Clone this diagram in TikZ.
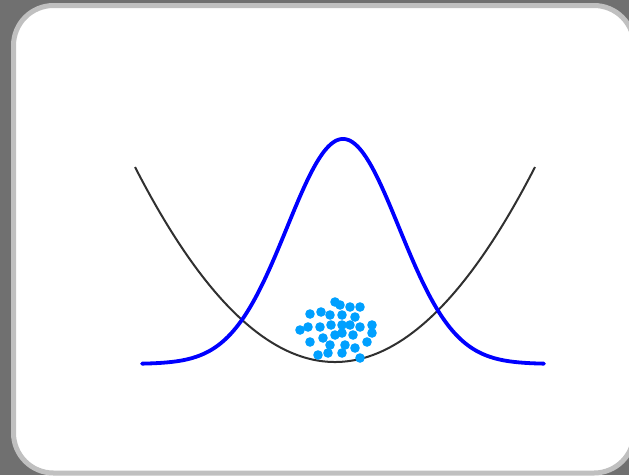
\documentclass[tikz,border=0pt]{standalone}
\definecolor{bggray}{HTML}{707070}
\definecolor{framegray}{HTML}{C0C0C0}
\definecolor{dotblue}{HTML}{00A0FF}
\definecolor{curvegray}{HTML}{303030}
\tikzset{
  frame/.style={draw=framegray, line width=5pt, fill=white, rounded corners=40pt},
  parab/.style={draw=curvegray, line width=2pt},
  gauss/.style={draw=blue, line width=3.8pt, line cap=round},
  dot/.style={fill=dotblue}
}
\begin{document}
\begin{tikzpicture}[x=1pt,y=-1pt]
  \fill[bggray] (0,0) rectangle (629,475);
  \useasboundingbox (0,0) rectangle (629,475);
  \path[frame] (13.5,5.5) rectangle (634,473);
  \draw[parab] plot[domain=135:535, samples=200] (\x, {362 - 195*((\x-335)/200)^2});
  \draw[gauss] plot[domain=142:544, samples=240] (\x, {364 - 225*exp(-0.5*((\x-343)/56)^2)});
  \foreach \px/\py in {335/302, 321/312, 310/314, 330/315, 300/330, 308/327, 320/327, 331/325,
      310/342, 323/338, 330/345, 318/355, 328/353, 335/335,
      340/305, 350/307, 360/307, 342/315, 355/317, 342/325, 350/325, 360/327, 372/325,
      372/333, 342/333, 353/335, 367/342, 345/345, 355/348, 342/353, 360/358} {
    \fill[dot] (\px,\py) circle (4.8pt);
  }
\end{tikzpicture}
\end{document}
